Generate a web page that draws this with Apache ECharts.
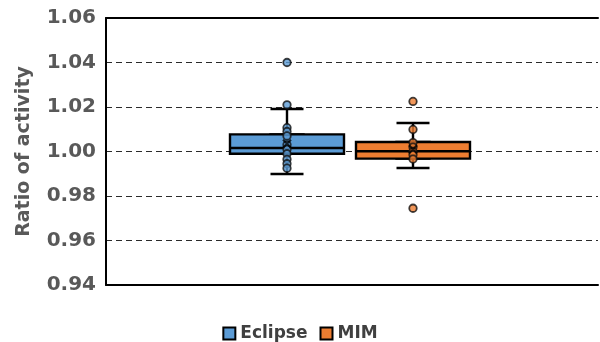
<!DOCTYPE html>
<html>
<head>
<meta charset="utf-8">
<script src="https://cdn.jsdelivr.net/npm/echarts@6/dist/echarts.min.js"></script>
<style>
html,body{margin:0;padding:0;background:#fff;}
#chart{width:600px;height:342px;}
</style>
</head>
<body>
<div id="chart"></div>
<script>
// ---- data ----
const categories = ['Eclipse', 'MIM'];
const seriesNames = ['Eclipse', 'MIM'];
// [min whisker, Q1, median, Q3, max whisker]
const eclipseStats = [0.9899, 0.9990, 1.0016, 1.0077, 1.0191];
const mimStats = [0.9926, 0.9968, 1.0001, 1.0043, 1.0128];
const eclipsePoints = [1.0400, 1.0210, 1.0107, 1.0090, 1.0070, 1.0030, 1.0010, 0.9990, 0.9965, 0.9945, 0.9925];
const mimPoints = [1.0225, 1.0099, 1.0040, 1.0020, 1.0000, 0.9985, 0.9966, 0.9745];
const means = [1.0035, 1.0010];
const yTicks = { min: 0.94, max: 1.06, interval: 0.02 };
const colors = ['#5B9BD5', '#ED7D31'];

const FONT = 'DejaVu Sans';
const chart = echarts.init(document.getElementById('chart'));

function boxOnly(s) { return [s[1], s[1], s[2], s[3], s[3]]; }

const hiddenCat = (cats, inverse) => ({
  type: 'category', gridIndex: 1, data: cats, inverse: !!inverse,
  axisLine: { show: false }, axisTick: { show: false }, axisLabel: { show: false },
  splitLine: { show: false }
});

const option = {
  animation: false,
  backgroundColor: '#fff',
  grid: [
    { left: 106, right: 2, top: 18, bottom: 57 },
    { left: 224, right: 124, top: 18, bottom: 57 }
  ],
  legend: {
    left: 'center', top: 320,
    itemWidth: 12, itemHeight: 12, itemGap: 12,
    textStyle: { fontFamily: FONT, fontWeight: 'bold', fontSize: 17, color: '#404040' },
    data: seriesNames.map((n, i) => ({
      name: n, icon: 'rect',
      itemStyle: { color: colors[i], borderColor: '#000', borderWidth: 2 }
    }))
  },
  xAxis: [
    { type: 'category', gridIndex: 0, data: [''], position: 'bottom',
      axisLine: { show: true, lineStyle: { color: '#000', width: 2 } },
      axisTick: { show: false }, axisLabel: { show: false }, splitLine: { show: false } },
    { type: 'category', gridIndex: 0, data: [''], position: 'top',
      axisLine: { show: true, lineStyle: { color: '#000', width: 2 } },
      axisTick: { show: false }, axisLabel: { show: false }, splitLine: { show: false } },
    hiddenCat(categories, false),
    hiddenCat(categories, false),
    hiddenCat(categories.slice().reverse(), true)
  ],
  yAxis: [
    { type: 'value', gridIndex: 0, min: yTicks.min, max: yTicks.max, interval: yTicks.interval,
      name: 'Ratio of activity', nameLocation: 'middle', nameGap: 72,
      nameTextStyle: { fontFamily: FONT, fontWeight: 'bold', fontSize: 19, color: '#595959' },
      axisLine: { show: true, lineStyle: { color: '#000', width: 2 } },
      axisTick: { show: false },
      axisLabel: { fontFamily: FONT, fontWeight: 'bold', fontSize: 20, color: '#595959', margin: 10,
        formatter: v => v.toFixed(2) },
      splitLine: { show: true, lineStyle: { color: '#2b2b2b', width: 1.2, type: [6, 4] } } },
    { type: 'value', gridIndex: 1, min: yTicks.min, max: yTicks.max, interval: yTicks.interval,
      show: false, splitLine: { show: false } }
  ],
  series: [
    { name: 'whiskers', type: 'boxplot', xAxisIndex: 2, yAxisIndex: 1, z: 2,
      boxWidth: [33, 33],
      itemStyle: { color: 'rgba(0,0,0,0)', borderColor: '#000', borderWidth: 2.4 },
      data: [eclipseStats, mimStats] },
    { name: seriesNames[0], type: 'boxplot', xAxisIndex: 3, yAxisIndex: 1, z: 3,
      boxWidth: [114, 114],
      itemStyle: { color: colors[0], borderColor: '#000', borderWidth: 2.4 },
      data: [boxOnly(eclipseStats)] },
    { name: seriesNames[1], type: 'boxplot', xAxisIndex: 4, yAxisIndex: 1, z: 3,
      boxWidth: [114, 114],
      itemStyle: { color: colors[1], borderColor: '#000', borderWidth: 2.4 },
      data: [boxOnly(mimStats)] },
    { name: 'Eclipse points', type: 'scatter', xAxisIndex: 2, yAxisIndex: 1, z: 5,
      symbol: 'circle', symbolSize: 7.5,
      itemStyle: { color: colors[0], borderColor: '#111', borderWidth: 1.8 },
      data: eclipsePoints.map(v => [0, v]) },
    { name: 'MIM points', type: 'scatter', xAxisIndex: 2, yAxisIndex: 1, z: 5,
      symbol: 'circle', symbolSize: 7.5,
      itemStyle: { color: colors[1], borderColor: '#111', borderWidth: 1.8 },
      data: mimPoints.map(v => [1, v]) },
    { name: 'mean', type: 'scatter', xAxisIndex: 2, yAxisIndex: 1, z: 6,
      symbol: 'path://M0,0L10,10M10,0L0,10', symbolSize: 8,
      itemStyle: { color: 'none', borderColor: '#000', borderWidth: 2 },
      data: means.map((v, i) => [i, v]) }
  ]
};
chart.setOption(option);
</script>
</body>
</html>
